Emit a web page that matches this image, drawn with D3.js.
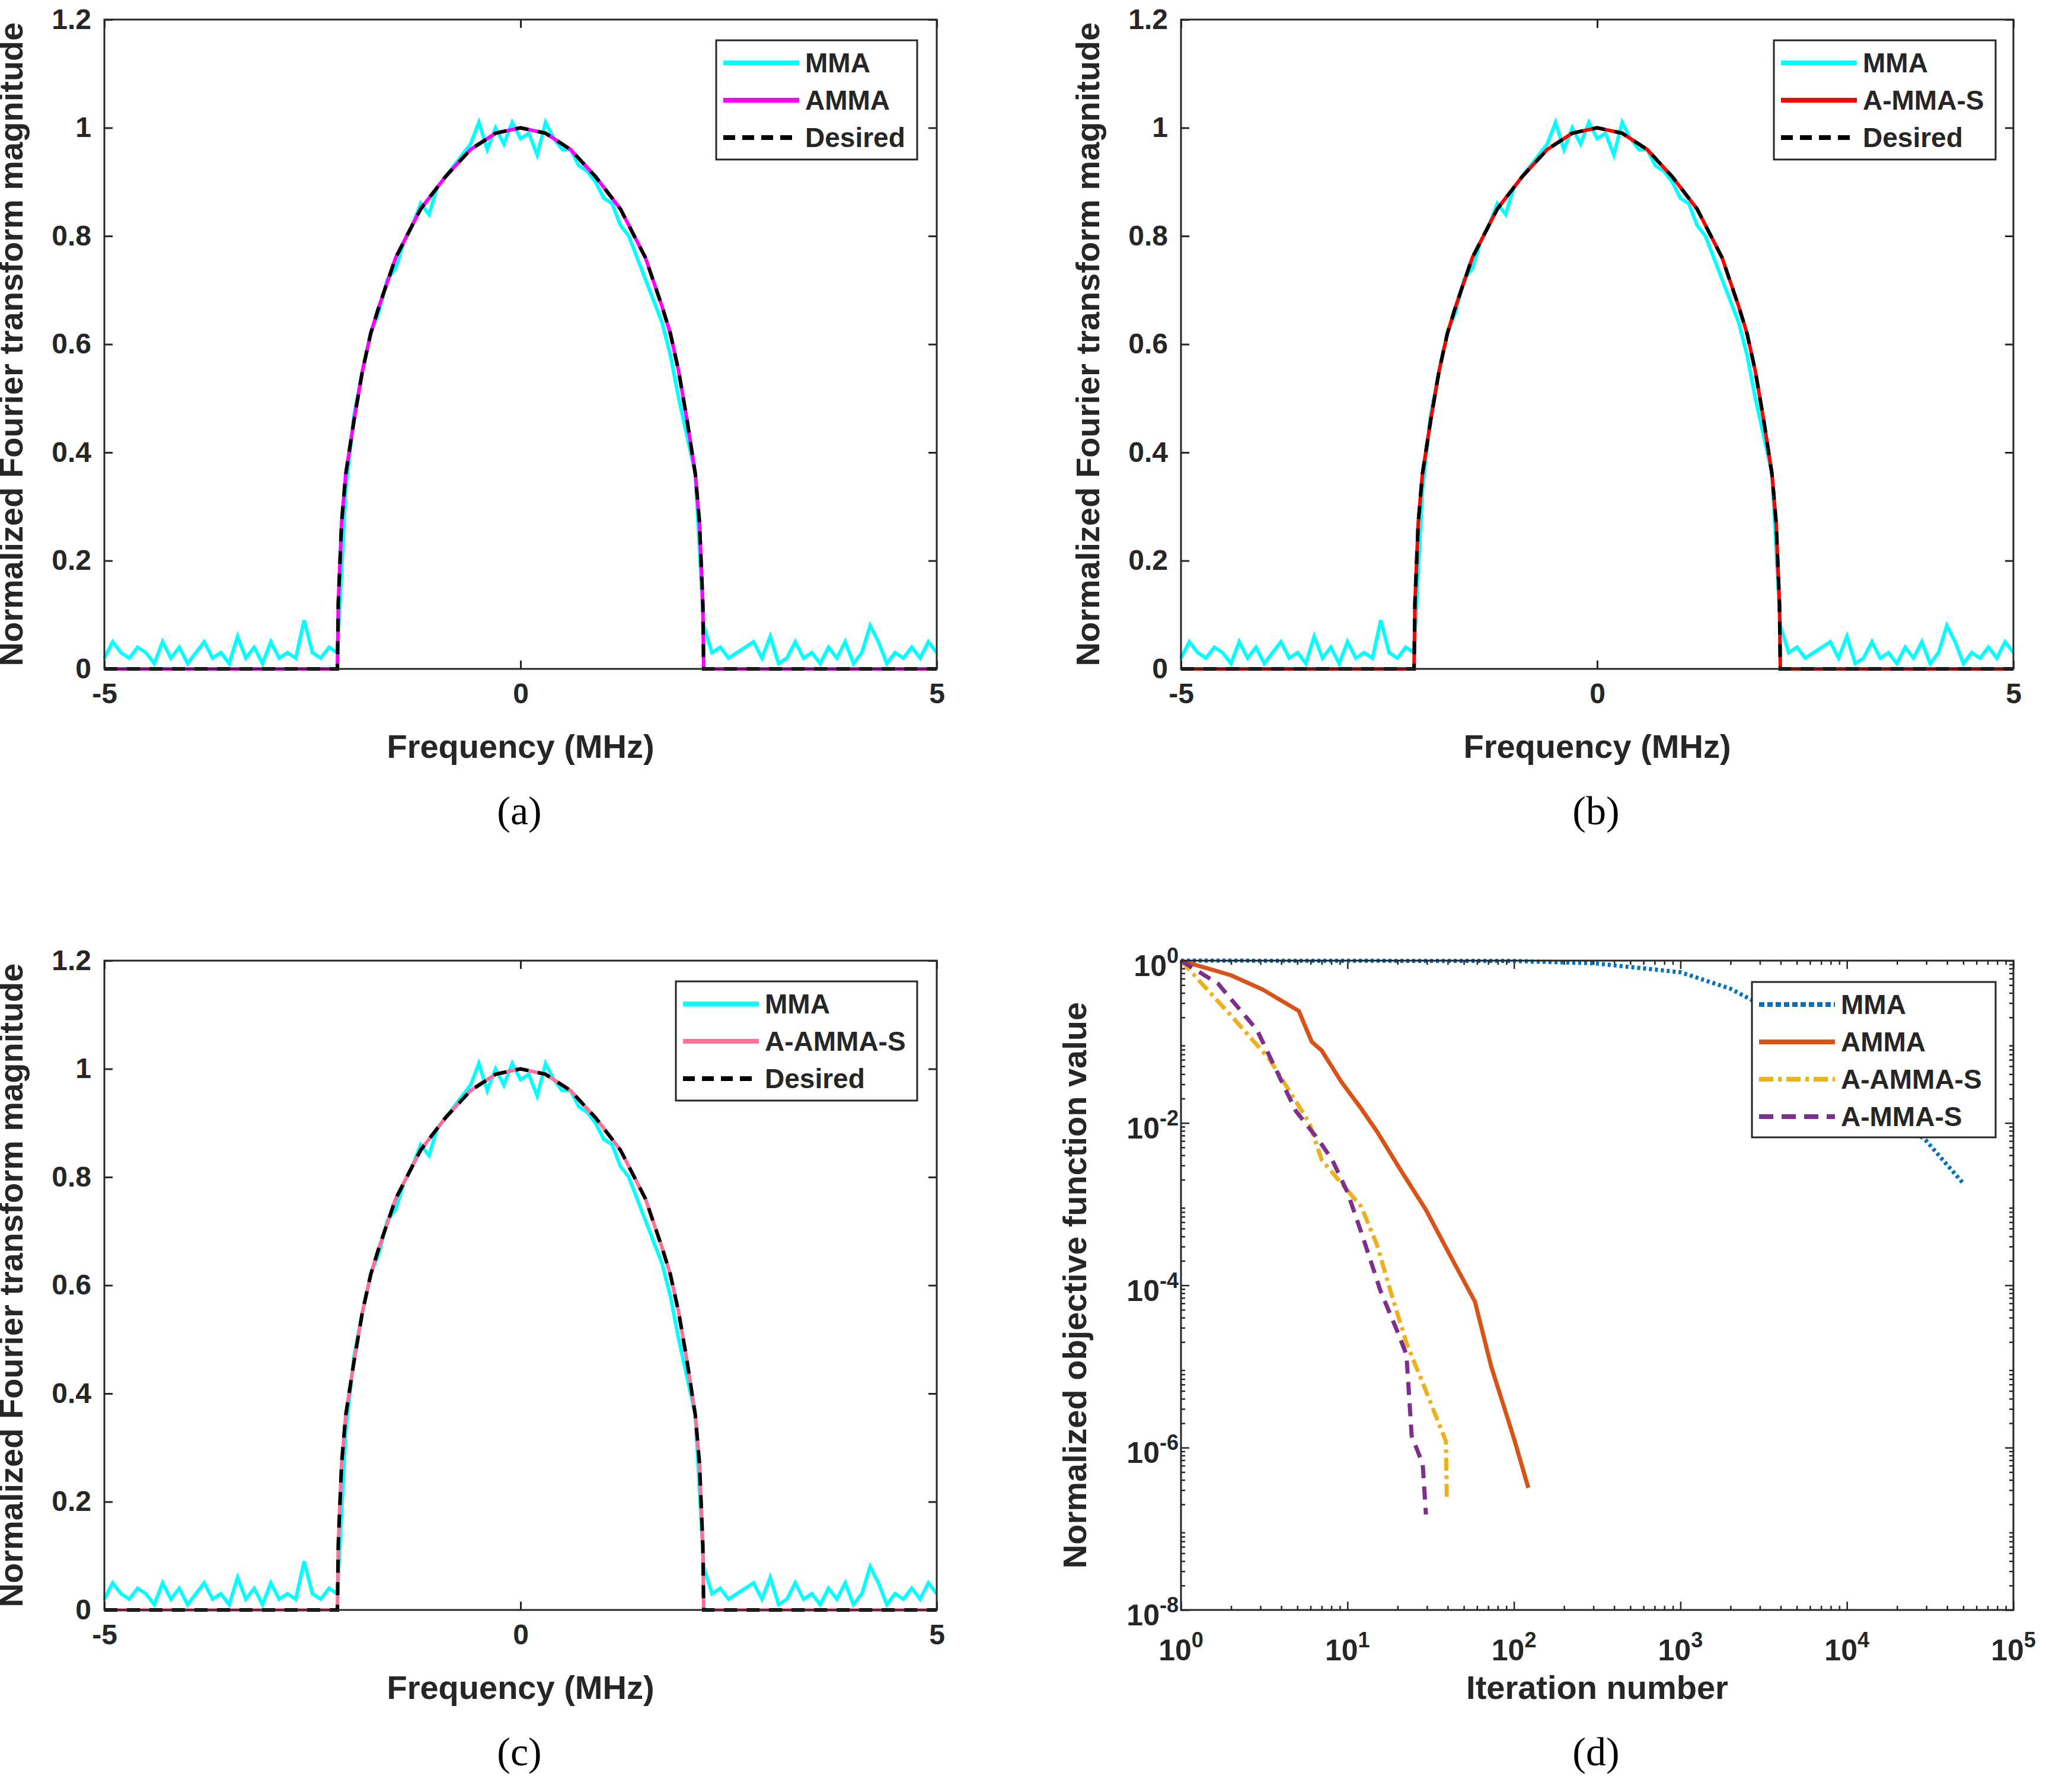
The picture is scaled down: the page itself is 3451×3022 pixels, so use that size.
<!DOCTYPE html><html><head><meta charset="utf-8">
<script src="https://cdn.jsdelivr.net/npm/d3@7"></script>
<style>body{margin:0;background:#fff}text{font-family:"Liberation Sans",Arial,sans-serif;font-weight:bold;fill:#262626}text.cap{font-family:"Liberation Serif",serif;font-weight:normal;fill:#000}</style>
</head><body><svg id="c" width="3451" height="3022"></svg><script>
const freq = d3.range(-5, 5.0001, 0.1);
const mmaSpec = [0.02,0.05,0.03,0.02,0.04,0.03,0.01,0.05,0.02,0.04,0.01,0.03,0.05,0.02,0.03,0.01,0.06,0.02,0.04,0.01,0.05,0.02,0.03,0.02,0.09,0.03,0.02,0.04,
0.03,0.33,0.47,0.55,0.62,0.66,0.72,0.74,0.79,0.82,0.86,0.84,0.89,0.91,0.93,0.95,0.97,1.01,0.96,1.0,0.97,1.01,0.98,0.99,0.95,1.01,0.98,0.96,0.96,0.93,0.92,0.90,0.87,0.86,0.82,0.80,0.76,0.72,0.68,0.64,0.58,0.50,0.43,0.36,0.08,
0.03,0.04,0.02,0.03,0.04,0.05,0.02,0.06,0.01,0.02,0.05,0.02,0.03,0.01,0.04,0.02,0.05,0.01,0.03,0.08,0.05,0.01,0.03,0.02,0.04,0.02,0.05,0.03];
const desiredF = [-5,-2.2,-2.19,-2.15,-2.1,-2.0,-1.9,-1.8,-1.7,-1.5,-1.2,-0.9,-0.6,-0.3,0,0.3,0.6,0.9,1.2,1.5,1.7,1.8,1.9,2.0,2.1,2.15,2.19,2.2,5];
const desiredV = [0,0,0.12,0.27,0.36,0.46,0.55,0.62,0.67,0.76,0.85,0.91,0.96,0.99,1.0,0.99,0.96,0.91,0.85,0.76,0.67,0.62,0.55,0.46,0.36,0.27,0.12,0,0];
const xTicksLin = [-5,0,5], yTicksLin = [0,0.2,0.4,0.6,0.8,1,1.2];
const itMMA = [1,100,300,1000,2000,3000,5000,10000,20000,30000,50000];
const vMMA = [1,0.99,0.93,0.72,0.45,0.29,0.12,0.03,0.012,0.006,0.0018];
const itAMMA = [1,2,3.1,5.1,6.1,7,9.2,12.1,15,20.7,29.6,42.5,58.3,73,100,122];
const vAMMA = [1,0.66,0.44,0.24,0.10,0.078,0.032,0.015,0.0079,0.0027,0.00085,0.00021,6.3e-5,1.0e-5,1.3e-6,3.2e-7];
const itAAMMAS = [1,2,3.4,5.9,7,12.1,15,18.1,22.7,28.3,39,39.5];
const vAAMMAS = [1,0.21,0.061,0.01,0.0035,0.00093,0.00032,8.6e-5,1.9e-5,6.3e-6,1.2e-6,2.4e-7];
const itAMMAS = [1,1.67,2.86,4.9,6.7,8.1,10,12.1,15.8,19.8,22.6,24.3,28.3,29.6];
const vAMMAS = [1,0.52,0.14,0.014,0.0062,0.0035,0.0014,0.00045,8.5e-5,2.8e-5,1.4e-5,1.4e-6,6.3e-7,1.5e-7];
const xTicksLog = [1,10,100,1000,10000,100000], yTicksLog = [1e-8,1e-6,1e-4,1e-2,1];

const svg = d3.select("#c");
const FS = 48, LFS = 46, AFS = 56;
function box(g,L,T,W,H){g.append("rect").attr("x",L).attr("y",T).attr("width",W).attr("height",H).attr("fill","none").attr("stroke","#262626").attr("stroke-width",3);}
function legend(g,x0,y0,w,items){
  const h=items.length*63+12;
  g.append("rect").attr("x",x0).attr("y",y0).attr("width",w).attr("height",h).attr("fill","#fff").attr("stroke","#262626").attr("stroke-width",3);
  items.forEach((it,i)=>{const yy=y0+38+i*63;
    g.append("line").attr("x1",x0+12).attr("x2",x0+140).attr("y1",yy).attr("y2",yy).attr("stroke",it.c).attr("stroke-width",8).attr("stroke-dasharray",it.d||null);
    g.append("text").attr("x",x0+150).attr("y",yy+16).attr("font-size",LFS).text(it.t);});
}
function caption(g,x,y,t){g.append("text").attr("class","cap").attr("x",x).attr("y",y).attr("text-anchor","middle").attr("font-size",68).text(t);}
function linPanel(L,T,secondName,secondColor,lgX,lgY,lgW,cap){
  const W=1404,H=1095;
  const g=svg.append("g");
  const x=d3.scaleLinear().domain([-5,5]).range([L,L+W]);
  const y=d3.scaleLinear().domain([0,1.2]).range([T+H,T]);
  g.append("g").attr("transform",`translate(0,${T+H})`).call(d3.axisBottom(x).tickValues(xTicksLin).tickSize(-14).tickPadding(24).tickFormat(d=>String(d)));
  g.append("g").attr("transform",`translate(0,${T})`).call(d3.axisTop(x).tickValues(xTicksLin).tickSize(-14).tickFormat(""));
  g.append("g").attr("transform",`translate(${L},0)`).call(d3.axisLeft(y).tickValues(yTicksLin).tickSize(-14).tickPadding(22).tickFormat(d=>d===1||d===0?d:d3.format(".1f")(d)));
  g.append("g").attr("transform",`translate(${L+W},0)`).call(d3.axisRight(y).tickValues(yTicksLin).tickSize(-14).tickFormat(""));
  g.selectAll(".domain").remove();
  g.selectAll(".tick line").attr("stroke","#262626").attr("stroke-width",3);
  g.selectAll(".tick text").attr("font-size",FS).attr("font-family","Liberation Sans").attr("font-weight","bold").attr("fill","#262626");
  const ln=d3.line().x(d=>x(d[0])).y(d=>y(d[1]));
  const mm=freq.map((f,i)=>[f,mmaSpec[i]]).filter(d=>d[1]!==undefined);
  const des=desiredF.map((f,i)=>[f,desiredV[i]]);
  g.append("path").attr("d",ln(mm)).attr("fill","none").attr("stroke","#00FFFF").attr("stroke-width",6);
  g.append("path").attr("d",ln(des)).attr("fill","none").attr("stroke",secondColor).attr("stroke-width",6);
  g.append("path").attr("d",ln(des)).attr("fill","none").attr("stroke","#000").attr("stroke-width",6).attr("stroke-dasharray","22 16");
  box(g,L,T,W,H);
  legend(g,lgX,lgY,lgW,[{t:"MMA",c:"#00FFFF"},{t:secondName,c:secondColor},{t:"Desired",c:"#000",d:"20 12"}]);
  g.append("text").attr("x",L+W/2).attr("y",T+H+150).attr("text-anchor","middle").attr("font-size",AFS).text("Frequency (MHz)");
  g.append("text").attr("transform",`translate(${L-138},${T+H/2}) rotate(-90)`).attr("text-anchor","middle").attr("font-size",AFS).text("Normalized Fourier transform magnitude");
  caption(g,L+W/2-2,T+H+262,cap);
}
linPanel(176,33,"AMMA","#FF00FF",1208,68,339,"(a)");
linPanel(1992,33,"A-MMA-S","#FF0000",2992,68,374,"(b)");
linPanel(176,1620,"A-AMMA-S","#FF6F9A",1140,1655,407,"(c)");

(function(){
  const L=1992,T=1620,W=1404,H=1095;
  const g=svg.append("g");
  const x=d3.scaleLog().domain([1,1e5]).range([L,L+W]);
  const y=d3.scaleLog().domain([1e-8,1]).range([T+H,T]);
  const minorX=[],minorY=[];
  for(let e=0;e<5;e++)for(let k=2;k<10;k++)minorX.push(k*Math.pow(10,e));
  for(let e=-8;e<0;e++)for(let k=2;k<10;k++)minorY.push(k*Math.pow(10,e));
  [[d3.axisBottom,T+H],[d3.axisTop,T]].forEach(([f,p])=>{
    g.append("g").attr("transform",`translate(0,${p})`).call(f(x).tickValues(minorX).tickSize(-7).tickFormat(""));
    g.append("g").attr("transform",`translate(0,${p})`).call(f(x).tickValues(xTicksLog).tickSize(-14).tickFormat(""));});
  [[d3.axisLeft,L],[d3.axisRight,L+W]].forEach(([f,p])=>{
    g.append("g").attr("transform",`translate(${p},0)`).call(f(y).tickValues(minorY).tickSize(-7).tickFormat(""));
    g.append("g").attr("transform",`translate(${p},0)`).call(f(y).tickValues(yTicksLog).tickSize(-14).tickFormat(""));});
  g.selectAll(".domain").remove();
  g.selectAll(".tick line").attr("stroke","#262626").attr("stroke-width",2.5);
  xTicksLog.forEach(v=>{const t=g.append("text").attr("x",x(v)).attr("y",T+H+85).attr("text-anchor","middle").attr("font-size",FS+2);
    t.append("tspan").text("10");t.append("tspan").attr("dy",-22).attr("font-size",36).text(Math.round(Math.log10(v)));});
  yTicksLog.forEach(v=>{const t=g.append("text").attr("x",L-4).attr("y",y(v)+26).attr("text-anchor","end").attr("font-size",FS+2);
    t.append("tspan").text("10");t.append("tspan").attr("dy",-22).attr("font-size",36).text(Math.round(Math.log10(v)));});
  const ln=d3.line().x(d=>x(d[0])).y(d=>y(d[1]));
  const S=[[itMMA,vMMA,"#0072BD","5 5","MMA","9 5"],[itAMMA,vAMMA,"#D95319",null,"AMMA",null],[itAAMMAS,vAAMMAS,"#EDB120","22 8 6 8","A-AMMA-S","24 8 6 8"],[itAMMAS,vAMMAS,"#7E2F8E","22 14","A-MMA-S","24 14"]];
  S.forEach(s=>g.append("path").attr("d",ln(s[0].map((v,i)=>[v,s[1][i]]))).attr("fill","none").attr("stroke",s[2]).attr("stroke-width",7).attr("stroke-dasharray",s[3]));
  box(g,L,T,W,H);
  const lx=2955,ly=1656;
  g.append("rect").attr("x",lx).attr("y",ly).attr("width",411).attr("height",262).attr("fill","#fff").attr("stroke","#262626").attr("stroke-width",3);
  S.forEach((s,i)=>{const yy=ly+38+i*63;
    g.append("line").attr("x1",lx+12).attr("x2",lx+140).attr("y1",yy).attr("y2",yy).attr("stroke",s[2]).attr("stroke-width",8).attr("stroke-dasharray",s[5]);
    g.append("text").attr("x",lx+150).attr("y",yy+16).attr("font-size",LFS).text(s[4]);});
  g.append("text").attr("x",L+W/2).attr("y",T+H+150).attr("text-anchor","middle").attr("font-size",AFS).text("Iteration number");
  g.append("text").attr("transform",`translate(${L-160},${T+H/2}) rotate(-90)`).attr("text-anchor","middle").attr("font-size",AFS).text("Normalized objective function value");
  caption(g,L+W/2-2,T+H+262,"(d)");
})();
</script></body></html>
